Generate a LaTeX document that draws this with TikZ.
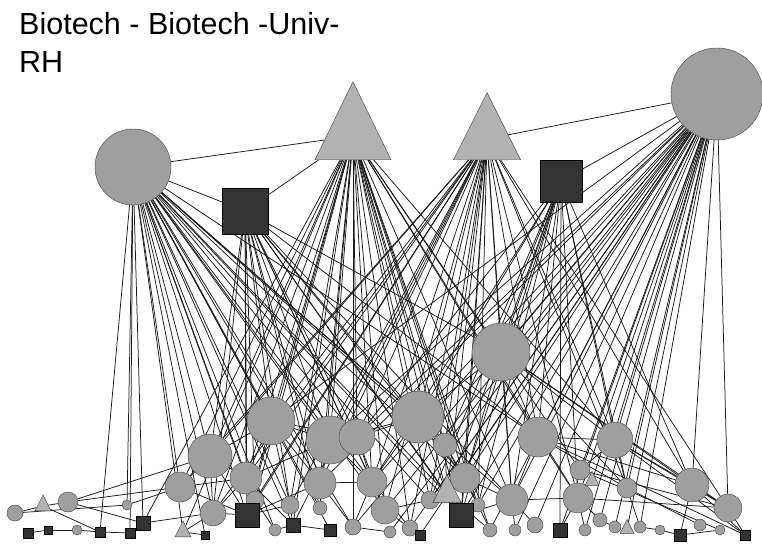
\documentclass[tikz,border=0pt]{standalone}
\usepackage{fontspec}
\setmainfont{Liberation Sans}
\usetikzlibrary{shapes.geometric,backgrounds}

\tikzset{
  link/.style={draw=black!90, line width=0.75pt},
  org/.style={circle, draw=black!75, fill=gray!75, inner sep=0pt},
  firm/.style={rectangle, draw=black, fill=black!80, inner sep=0pt},
  univ/.style={isosceles triangle, isosceles triangle stretches, shape border rotate=90,
    draw=black!75, fill=gray!60, inner sep=0pt},
}

\begin{document}
\begin{tikzpicture}[x=1pt,y=-1pt]
      \useasboundingbox (0,0) rectangle (762,545);

      % Title
      \node[anchor=north west, align=left, inner sep=0pt, font=\fontsize{30.5}{38}\selectfont] (title) at (19,12) {Biotech - Biotech -Univ-\\RH};

      % Hubs
      \node[org, minimum size=76pt] (L) at (133,167) {};
      \node[org, minimum size=92pt] (R) at (717,94) {};
      \node[firm, minimum size=46pt] (S1) at (245,211) {};
      \node[firm, minimum size=42pt] (S2) at (561,181) {};
      \node[univ, minimum width=76pt, minimum height=78pt] (T1) at (353,136) {};
      \node[univ, minimum width=67pt, minimum height=67pt] (T2) at (487,139) {};

      % Lower circles
      \foreach \n/\x/\y/\d in {c1/501/352/58, c2/271/421/48, c3/418/417/52, c4/330/440/48,
        c5/210/456/44, c6/538/437/40, c7/615/440/36, c8/692/485/34, c9/180/487/30,
        c10/246/478/32, c11/320/483/32, c12/372/482/30, c13/465/478/30, c14/512/500/32,
        c15/578/498/30, c16/728/508/28, c17/213/513/26, c18/385/510/28, c19/627/488/20,
        c20/15/513/16, c21/68/502/20, c22/353/527/16, c24/77/530/10, c25/127/505/10,
        c26/410/528/16, c27/430/500/18, c28/535/525/16, c29/600/520/14, c30/615/527/12,
        c31/640/527/12, c32/700/525/12, c33/290/505/18, c34/357/437/36, c35/445/445/24,
        c36/255/500/18, c37/580/470/20, c38/490/530/14, c39/515/530/12, c40/390/532/12,
        c41/275/530/12, c42/320/508/14, c43/478/505/14, c44/660/530/10, c45/720/530/10,
        c46/585/530/12}
        \node[org, minimum size=\d pt] (\n) at (\x,\y) {};

      % Lower triangles
      \foreach \n/\x/\y/\d in {t1/43/506/16, t2/447/494/28, t3/183/532/16, t4/627/529/14, t5/592/481/14}
        \node[univ, minimum width=\d pt, minimum height=\d pt] (\n) at (\x,\y) {};

      % Lower squares
      \foreach \n/\x/\y/\d in {s1/247/515/24, s2/461/515/24, s3/28/533/10, s4/48/530/8,
        s5/100/532/10, s6/143/523/14, s7/293/525/14, s8/205/535/8, s9/680/535/12,
        s10/745/535/10, s11/560/530/14, s12/420/535/10, s13/130/533/10, s14/330/530/12}
        \node[firm, minimum size=\d pt] (\n) at (\x,\y) {};

      % Links
      \begin{scope}[on background layer]
        \draw[link] (L) -- (T1);
        \draw[link] (L) -- (S1);
        \draw[link] (S1) -- (T1);
        \draw[link] (T2) -- (R);
        \draw[link] (S2) -- (R);
        \foreach \t in {s5,s13,s6,c25,t3,c9,c17,c5,s8,c10,s1,c2,c33,s7,c11,c4,c34,c12,
          c18,c3,c27,t2,s2,c13,c6,c14,c36,c41,c42,c22,s14,c35}
          \draw[link] (L) -- (\t);
        \foreach \t in {s6,c9,c5,c10,c2,c11,c4,c34,c12,c3,c18,t2,s2,c13,c14,c6,c15,c1,
          s1,c17,c33,c27,c7,c26,c22,c42,c35,c37,c36,s7,c43,c38,t3}
          \draw[link] (T1) -- (\t);
        \foreach \t in {c5,c2,c4,c34,c12,c3,c13,t2,s2,c14,c1,c6,c15,c7,c19,c8,c16,c11,
          c10,s1,c17,c9,c33,c43,c35,c18,c27,c26,s7,c36}
          \draw[link] (T2) -- (\t);
        \foreach \t in {c10,s1,c36,c2,c11,c4,c34,c12,c3,c13,t2,s2,c1,c6,c5,c17,c14,c18,
          c33,c42}
          \draw[link] (S1) -- (\t);
        \foreach \t in {c15,s11,c1,c13,t2,c3,s2,c12,c14,c6,c7,c19,c8,c34,c27,c35,c43}
          \draw[link] (S2) -- (\t);
        \foreach \t in {c4,c34,c12,c3,c18,c27,t2,s2,c13,c1,c14,c6,c15,c7,c19,c8,c16,
          c29,c28,s11,c35,t4,c37,c43,c38,c46,t5,c11,c2,c26,c30,c31,c39,c22,s12,c40}
          \draw[link] (R) -- (\t);
        % bottom mesh
        \foreach \a/\b in {c20/t1, t1/c21, c21/c9, s3/s4, s4/c24, c24/s5, s5/s13, s13/s6,
          c25/c9, s6/c17, c21/c5, c9/c10, c17/s1, s1/c33, c33/s7, s7/s14, c11/c12,
          c4/c34, c34/c3, c3/c35, c35/t2, t2/s2, s2/c14, c14/c6, c6/c7, c7/c16, c7/c8,
          c6/s10, c7/s10, c15/c16, c19/c32, c8/s10, c16/s10, c1/c8, c1/c19, c37/c45,
          c2/c10, c2/c4, c5/c10, c11/c42, c12/c18, c18/c26, c26/s12, c13/c43, c43/c38,
          c14/c39, c15/c46, c29/c30, c31/c44, c44/s9, s9/c45, c22/c40, c12/c22, c41/s7,
          c36/c41, c10/c36, c13/c14, c3/c13, c4/c11, c21/s6, t1/s5, c20/c25, c9/c5,
          c5/c2, c2/c11, c10/c4, c17/c10, s1/c11, c4/c12, c34/c18, c3/c12, c3/t2,
          c35/c13, c13/s2, c27/t2, c18/c27, c14/c15, c6/c15, c37/c7, c6/c19, c7/c19,
          c15/c29, c19/c31, c8/c16, c8/s9, c37/c16, c6/c8, c1/c6, c1/c13, c1/c3, c1/c14,
          c1/c7, c1/c16, c9/s1, c5/s1, c5/c17, c2/c33, c2/s1, c11/c22, c12/c26, t2/c38,
          c14/c28, c15/s11, c35/c43, c34/c12, c2/c34, c4/c3, c10/s7, c17/t3, t3/s8}
          \draw[link] (\a) -- (\b);
      \end{scope}
    \end{tikzpicture}
\end{document}
